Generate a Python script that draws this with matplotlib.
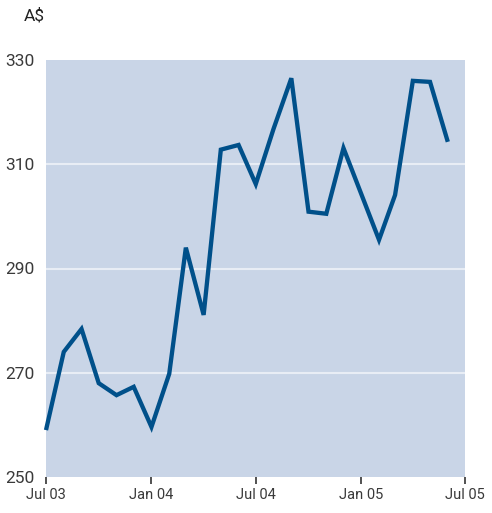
import matplotlib
matplotlib.use("Agg")
import matplotlib.pyplot as plt
import pandas as pd

months = pd.date_range("2003-07-01", "2005-06-01", freq="MS")
values = [259.0, 274.0, 278.4, 268.0, 265.7, 267.3, 259.6, 269.8, 294.0, 281.1,
          312.8, 313.7, 306.2, 316.8, 326.5, 300.9, 300.5, 313.1, 304.3, 295.5,
          304.1, 326.0, 325.8, 314.3]
xtick_dates = pd.to_datetime(["2003-07-01", "2004-01-01", "2004-07-01", "2005-01-01", "2005-07-01"])
xtick_labels = ["Jul 03", "Jan 04", "Jul 04", "Jan 05", "Jul 05"]
yticks = [250, 270, 290, 310, 330]

plt.rcParams['font.family'] = ['Roboto', 'DejaVu Sans']

fig = plt.figure(figsize=(4.92, 5.13), dpi=100)
ax = fig.add_axes([46/492, 1-477/513, (465-46)/492, (477-60)/513])
ax.set_facecolor("#c9d5e7")
ax.plot(months, values, color="#00508a", lw=3.1, solid_joinstyle="miter",
        solid_capstyle="butt", zorder=3, clip_on=False)

ax.set_xlim(xtick_dates[0], xtick_dates[-1])
ax.set_ylim(250, 330)
ax.set_yticks(yticks)
ax.set_yticklabels([str(v) for v in yticks], fontsize=12.5, color="#3a3a3a")
ax.set_xticks(xtick_dates)
ax.set_xticklabels(xtick_labels, fontsize=10.5, color="#3a3a3a")
ax.tick_params(axis="y", length=0, pad=8)
ax.tick_params(axis="x", length=5, width=1.2, color="#333333", pad=3, direction="out")
for y in [270, 290, 310]:
    ax.axhline(y, color="#e8edf5", lw=1.5, zorder=1)
for s in ax.spines.values():
    s.set_visible(False)

fig.text(24/492, 1-16/513, "A$", fontsize=12.5, color="#222222", va="center", ha="left")

fig.savefig("out.png", dpi=100)
